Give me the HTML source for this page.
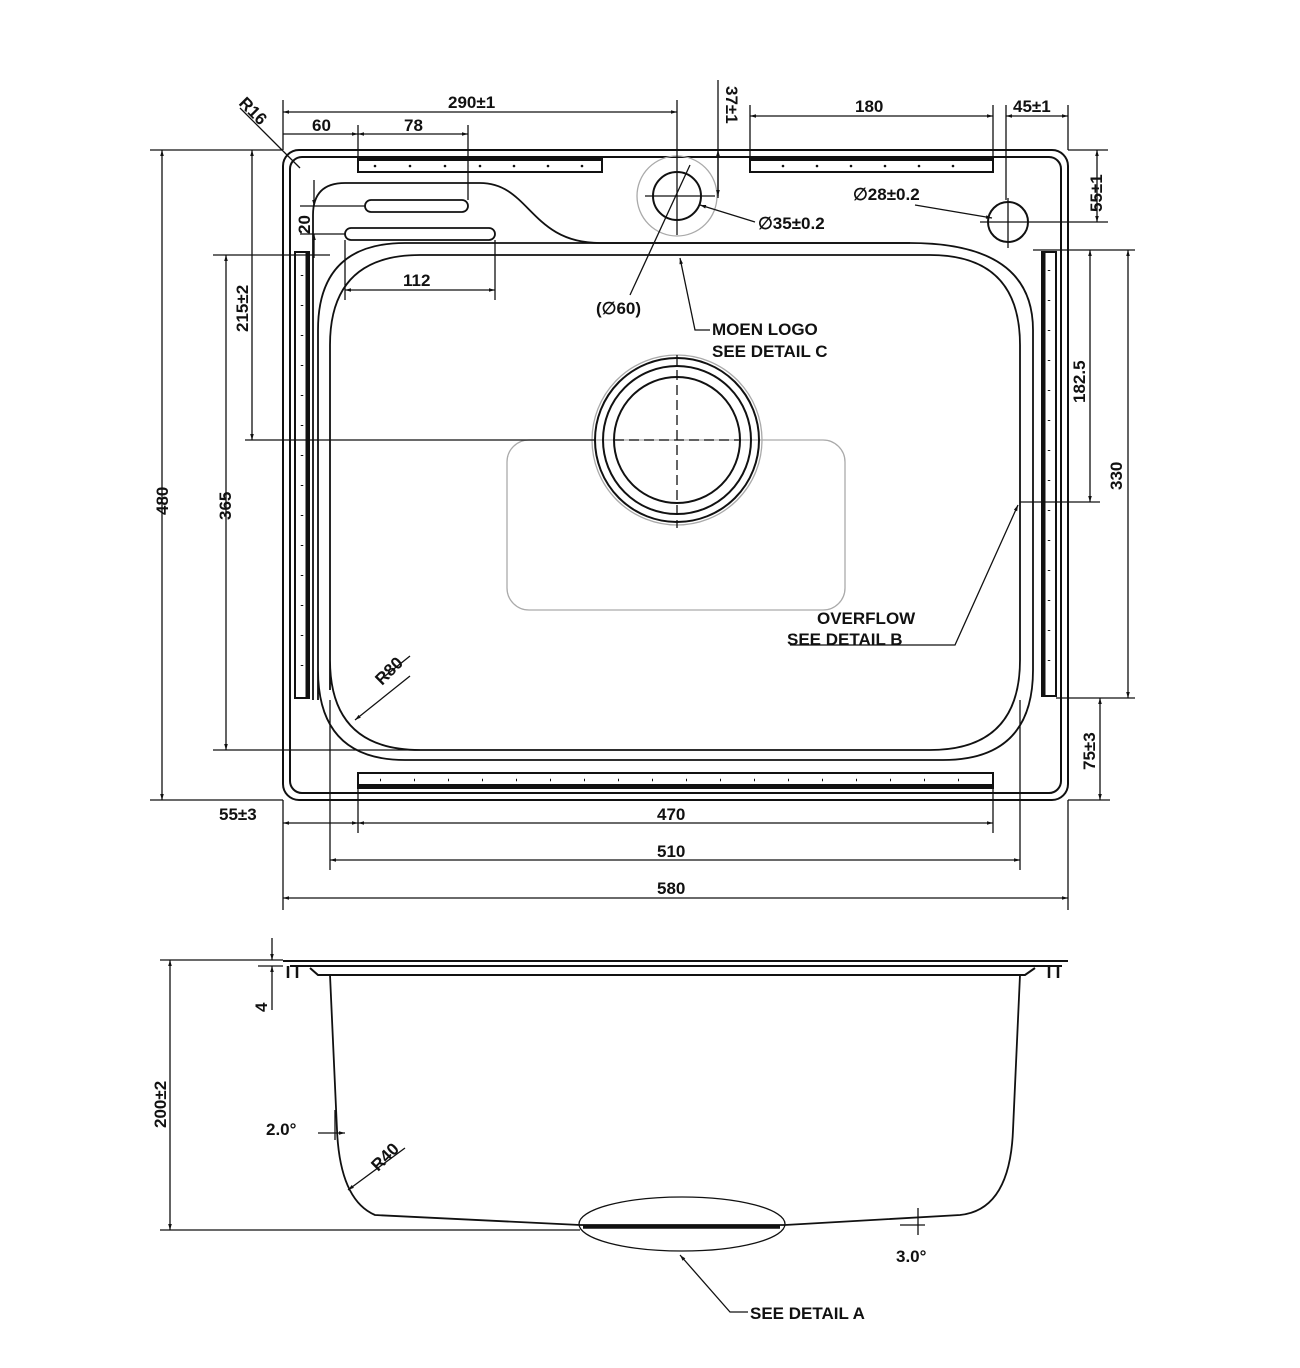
<!DOCTYPE html>
<html><head><meta charset="utf-8"><style>
html,body{margin:0;padding:0;background:#fff;}
svg{display:block}
text{font-family:"Liberation Sans",Arial,sans-serif;font-weight:bold;font-size:17px;fill:#111;letter-spacing:0}
</style></head><body>
<svg width="1300" height="1368" viewBox="0 0 1300 1368" xmlns="http://www.w3.org/2000/svg">
<defs>
<marker id="a" viewBox="0 0 10 10" refX="10" refY="5" markerWidth="12" markerHeight="6" orient="auto-start-reverse" markerUnits="userSpaceOnUse"><path d="M0,2 L10,5 L0,8z" fill="#111"/></marker>
</defs>
<g fill="none" stroke="#111" stroke-width="1.3">
<rect x="283" y="150" width="785" height="650" rx="16" stroke-width="2"/>
<rect x="290" y="157" width="771" height="636" rx="12" stroke-width="2"/>
<rect x="358" y="157" width="244" height="15" stroke-width="2"/>
<line x1="358" y1="159" x2="602" y2="159" stroke-width="4"/>
<rect x="750" y="157" width="243" height="15" stroke-width="2"/>
<line x1="750" y1="159" x2="993" y2="159" stroke-width="4"/>
<rect x="358" y="773" width="635" height="15" stroke-width="2"/>
<line x1="358" y1="786" x2="993" y2="786" stroke-width="4"/>
<rect x="295" y="252" width="14" height="446" stroke-width="2"/>
<line x1="307" y1="252" x2="307" y2="698" stroke-width="3"/>
<rect x="1042" y="252" width="14" height="444" stroke-width="2"/>
<line x1="1044" y1="252" x2="1044" y2="696" stroke-width="3"/>
<path d="M313,700 L313,215 Q313,183 345,183 L480,183 C530,183 530,243 600,243 L910,243" stroke-width="1.8"/>
<rect x="365" y="200" width="103" height="12" rx="6" stroke-width="1.8"/>
<rect x="345" y="228" width="150" height="12" rx="6" stroke-width="1.8"/>
<path d="M318,700 L318,330 Q318,243 405,243 L910,243 Q1033,243 1033,330 L1033,670 Q1033,760 943,760 L405,760 Q318,760 318,670z" stroke-width="1.8"/>
<path d="M330,690 L330,345 Q330,255 420,255 L930,255 Q1020,255 1020,345 L1020,660 Q1020,750 930,750 L420,750 Q330,750 330,660z" stroke-width="1.8"/>
<circle cx="677" cy="196" r="40" stroke="#aaa"/>
<circle cx="677" cy="196" r="24" stroke-width="2"/>
<line x1="677" y1="160" x2="677" y2="235"/><line x1="645" y1="196" x2="715" y2="196"/>
<circle cx="1008" cy="222" r="20" stroke-width="2"/>
<line x1="980" y1="222" x2="1036" y2="222"/><line x1="1008" y1="198" x2="1008" y2="248"/>
<rect x="507" y="440" width="338" height="170" rx="22" stroke="#aaa"/>
<circle cx="677" cy="440" r="85" stroke="#aaa"/>
<circle cx="677" cy="440" r="82" stroke-width="2"/>
<circle cx="677" cy="440" r="74" stroke-width="2"/>
<circle cx="677" cy="440" r="63" stroke-width="2"/>
<line x1="677" y1="355" x2="677" y2="528" stroke-dasharray="10 5"/>
<line x1="245" y1="440" x2="595" y2="440"/>
<line x1="614" y1="440" x2="740" y2="440" stroke-dasharray="10 5"/>
<line x1="283" y1="100" x2="283" y2="150"/>
<line x1="358" y1="125" x2="358" y2="157"/>
<line x1="468" y1="125" x2="468" y2="200"/>
<line x1="677" y1="100" x2="677" y2="160"/>
<line x1="283" y1="112" x2="677" y2="112" marker-start="url(#a)" marker-end="url(#a)"/>
<line x1="283" y1="134" x2="358" y2="134" marker-end="url(#a)"/>
<line x1="358" y1="134" x2="468" y2="134" marker-start="url(#a)" marker-end="url(#a)"/>
<line x1="750" y1="105" x2="750" y2="157"/><line x1="993" y1="105" x2="993" y2="157"/>
<line x1="750" y1="116" x2="993" y2="116" marker-start="url(#a)" marker-end="url(#a)"/>
<line x1="1006" y1="105" x2="1006" y2="200"/><line x1="1068" y1="105" x2="1068" y2="150"/>
<line x1="1006" y1="116" x2="1068" y2="116" marker-start="url(#a)" marker-end="url(#a)"/>
<line x1="718" y1="80" x2="718" y2="198"/>
<line x1="718" y1="150" x2="718" y2="196" marker-start="url(#a)" marker-end="url(#a)"/>
<line x1="1068" y1="150" x2="1108" y2="150"/><line x1="1036" y1="222" x2="1108" y2="222"/>
<line x1="1097" y1="150" x2="1097" y2="222" marker-start="url(#a)" marker-end="url(#a)"/>
<line x1="240" y1="108" x2="300" y2="168"/>
<line x1="700" y1="205" x2="755" y2="222" marker-start="url(#a)"/>
<line x1="992" y1="218" x2="915" y2="205" marker-start="url(#a)"/>
<line x1="690" y1="165" x2="630" y2="295"/>
<polyline points="680,258 695,330 710,330" marker-start="url(#a)"/>
<polyline points="1018,505 955,645 790,645" marker-start="url(#a)"/>
<line x1="355" y1="720" x2="410" y2="676" marker-start="url(#a)"/>
<line x1="385" y1="676" x2="410" y2="656"/>
<line x1="300" y1="206" x2="365" y2="206"/><line x1="300" y1="234" x2="345" y2="234"/>
<line x1="314" y1="180" x2="314" y2="206" marker-end="url(#a)"/>
<line x1="314" y1="234" x2="314" y2="258" marker-start="url(#a)"/>
<line x1="345" y1="240" x2="345" y2="300"/><line x1="495" y1="240" x2="495" y2="300"/>
<line x1="345" y1="290" x2="495" y2="290" marker-start="url(#a)" marker-end="url(#a)"/>
<line x1="150" y1="150" x2="283" y2="150"/><line x1="150" y1="800" x2="283" y2="800"/>
<line x1="162" y1="150" x2="162" y2="800" marker-start="url(#a)" marker-end="url(#a)"/>
<line x1="252" y1="150" x2="252" y2="440" marker-start="url(#a)" marker-end="url(#a)"/>
<line x1="213" y1="255" x2="330" y2="255"/><line x1="213" y1="750" x2="420" y2="750"/>
<line x1="226" y1="255" x2="226" y2="750" marker-start="url(#a)" marker-end="url(#a)"/>
<line x1="1033" y1="250" x2="1135" y2="250"/><line x1="1056" y1="698" x2="1135" y2="698"/>
<line x1="1128" y1="250" x2="1128" y2="698" marker-start="url(#a)" marker-end="url(#a)"/>
<line x1="1020" y1="502" x2="1100" y2="502"/>
<line x1="1090" y1="250" x2="1090" y2="502" marker-start="url(#a)" marker-end="url(#a)"/>
<line x1="1068" y1="800" x2="1110" y2="800"/>
<line x1="1100" y1="698" x2="1100" y2="800" marker-start="url(#a)" marker-end="url(#a)"/>
<line x1="283" y1="800" x2="283" y2="910"/><line x1="358" y1="788" x2="358" y2="833"/>
<line x1="993" y1="788" x2="993" y2="833"/><line x1="330" y1="700" x2="330" y2="870"/>
<line x1="1020" y1="700" x2="1020" y2="870"/><line x1="1068" y1="800" x2="1068" y2="910"/>
<line x1="283" y1="823" x2="358" y2="823" marker-start="url(#a)" marker-end="url(#a)"/>
<line x1="358" y1="823" x2="993" y2="823" marker-start="url(#a)" marker-end="url(#a)"/>
<line x1="330" y1="860" x2="1020" y2="860" marker-start="url(#a)" marker-end="url(#a)"/>
<line x1="283" y1="898" x2="1068" y2="898" marker-start="url(#a)" marker-end="url(#a)"/>
<line x1="283" y1="961" x2="1068" y2="961" stroke-width="2"/>
<line x1="290" y1="966" x2="1062" y2="966" stroke-width="2"/>
<path d="M310,968 L318,975 L1025,975 L1035,968" stroke-width="2"/>
<path d="M288,966 v12 M297,966 v12 M1049,966 v12 M1058,966 v12" stroke-width="2.5"/>
<path d="M330,975 L337,1130 Q340,1200 375,1215 L580,1225 L785,1225 L960,1215 Q1010,1210 1013,1130 L1020,975" stroke-width="1.8"/>
<line x1="583" y1="1227" x2="780" y2="1227" stroke-width="3.5"/>
<ellipse cx="682" cy="1224" rx="103" ry="27"/>
<line x1="160" y1="960" x2="283" y2="960"/><line x1="160" y1="1230" x2="580" y2="1230"/>
<line x1="170" y1="960" x2="170" y2="1230" marker-start="url(#a)" marker-end="url(#a)"/>
<line x1="258" y1="966" x2="283" y2="966"/>
<line x1="272" y1="938" x2="272" y2="960" marker-end="url(#a)"/>
<line x1="272" y1="966" x2="272" y2="1010" marker-start="url(#a)"/>
<line x1="318" y1="1133" x2="345" y2="1133" marker-end="url(#a)"/>
<line x1="335" y1="1110" x2="335" y2="1140"/>
<line x1="348" y1="1190" x2="405" y2="1148" marker-start="url(#a)"/>
<line x1="918" y1="1208" x2="918" y2="1235"/><line x1="900" y1="1225" x2="925" y2="1225"/>
<polyline points="680,1255 730,1312 748,1312" marker-start="url(#a)"/>
</g>
<g fill="#111">
<circle cx="375" cy="166" r="1.3"/><circle cx="410" cy="166" r="1.3"/><circle cx="445" cy="166" r="1.3"/><circle cx="480" cy="166" r="1.3"/><circle cx="514" cy="166" r="1.3"/><circle cx="548" cy="166" r="1.3"/><circle cx="582" cy="166" r="1.3"/>
<circle cx="783" cy="166" r="1.3"/><circle cx="817" cy="166" r="1.3"/><circle cx="851" cy="166" r="1.3"/><circle cx="885" cy="166" r="1.3"/><circle cx="919" cy="166" r="1.3"/><circle cx="953" cy="166" r="1.3"/>
</g>
<g fill="#111">
<path d="M380,780h1M414,780h1M448,780h1M482,780h1M516,780h1M550,780h1M584,780h1M618,780h1M652,780h1M686,780h1M720,780h1M754,780h1M788,780h1M822,780h1M856,780h1M890,780h1M924,780h1M958,780h1" stroke="#111" stroke-width="2.5"/>
<path d="M302,275v1M302,305v1M302,335v1M302,365v1M302,395v1M302,425v1M302,455v1M302,485v1M302,515v1M302,545v1M302,575v1M302,605v1M302,635v1M302,665v1" stroke="#111" stroke-width="2.5"/>
<path d="M1049,270v1M1049,300v1M1049,330v1M1049,360v1M1049,390v1M1049,420v1M1049,450v1M1049,480v1M1049,510v1M1049,540v1M1049,570v1M1049,600v1M1049,630v1M1049,660v1" stroke="#111" stroke-width="2.5"/>
</g>
<text x="448" y="108">290±1</text>
<text x="312" y="131">60</text>
<text x="404" y="131">78</text>
<text x="855" y="112">180</text>
<text x="1013" y="112">45±1</text>
<text transform="translate(726,86) rotate(90)">37±1</text>
<text transform="translate(1102,212) rotate(-90)">55±1</text>
<text transform="translate(238,104) rotate(45)">R16</text>
<text x="853" y="200">∅28±0.2</text>
<text x="758" y="229">∅35±0.2</text>
<text x="596" y="314">(∅60)</text>
<text x="712" y="335">MOEN LOGO</text>
<text x="712" y="357">SEE DETAIL C</text>
<text x="817" y="624">OVERFLOW</text>
<text x="787" y="645">SEE DETAIL B</text>
<text transform="translate(310,234) rotate(-90)">20</text>
<text x="403" y="286">112</text>
<text transform="translate(168,515) rotate(-90)">480</text>
<text transform="translate(248,332) rotate(-90)">215±2</text>
<text transform="translate(231,520) rotate(-90)">365</text>
<text transform="translate(1085,403) rotate(-90)">182.5</text>
<text transform="translate(1122,490) rotate(-90)">330</text>
<text transform="translate(1095,770) rotate(-90)">75±3</text>
<text transform="translate(382,686) rotate(-45)">R80</text>
<text x="219" y="820">55±3</text>
<text x="657" y="820">470</text>
<text x="657" y="857">510</text>
<text x="657" y="894">580</text>
<text transform="translate(267,1012) rotate(-90)">4</text>
<text transform="translate(166,1128) rotate(-90)">200±2</text>
<text x="266" y="1135">2.0°</text>
<text transform="translate(378,1172) rotate(-45)">R40</text>
<text x="896" y="1262">3.0°</text>
<text x="750" y="1319">SEE DETAIL A</text>
</svg>
</body></html>
